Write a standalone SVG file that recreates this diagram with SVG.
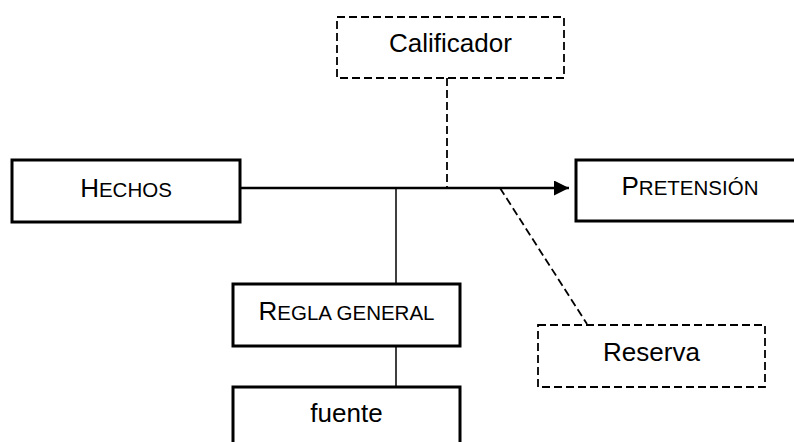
<svg xmlns="http://www.w3.org/2000/svg" width="794" height="442" viewBox="0 0 794 442">
<style>
.solid{fill:#fff;stroke:#000;stroke-width:3}
.dash{fill:#fff;stroke:#000;stroke-width:1.8;stroke-dasharray:8 4}
text{font-family:"Liberation Sans",Arial,sans-serif;font-size:26px;fill:#000;text-anchor:middle}
.sc{font-size:20.5px}
.conn{stroke:#000;fill:none}
</style>
<defs>
<marker id="arr" markerWidth="15" markerHeight="15" refX="15" refY="7.5" orient="auto" markerUnits="userSpaceOnUse">
<path d="M0,0 L15,7.5 L0,15 Z" fill="#000"/>
</marker>
</defs>
<g id="connectors">
<line class="conn" x1="240" y1="188" x2="569" y2="188" stroke-width="2.5" marker-end="url(#arr)"/>
<line class="conn" x1="447" y1="78" x2="447" y2="188" stroke-width="1.8" stroke-dasharray="8 4"/>
<line class="conn" x1="396" y1="188" x2="396" y2="284" stroke-width="1.5"/>
<line class="conn" x1="396" y1="346" x2="396" y2="387" stroke-width="1.5"/>
<line class="conn" x1="500" y1="188" x2="587" y2="324" stroke-width="1.8" stroke-dasharray="8 4"/>
</g>
<g id="hechos">
<rect class="solid" x="12" y="160" width="228" height="62"/>
<text x="126" y="197">H<tspan class="sc">ECHOS</tspan></text>
</g>
<g id="pretension">
<rect class="solid" x="576" y="160" width="228" height="61"/>
<text x="690" y="195">P<tspan class="sc">RETENSIÓN</tspan></text>
</g>
<g id="calificador">
<rect class="dash" x="337" y="17" width="227" height="61"/>
<text x="450.5" y="52">Calificador</text>
</g>
<g id="regla">
<rect class="solid" x="233" y="284" width="227" height="62"/>
<text x="346.5" y="320">R<tspan class="sc">EGLA GENERAL</tspan></text>
</g>
<g id="fuente">
<rect class="solid" x="233" y="387" width="227" height="70"/>
<text x="346.5" y="422">fuente</text>
</g>
<g id="reserva">
<rect class="dash" x="538" y="325" width="227" height="62"/>
<text x="651.5" y="361">Reserva</text>
</g>
</svg>
